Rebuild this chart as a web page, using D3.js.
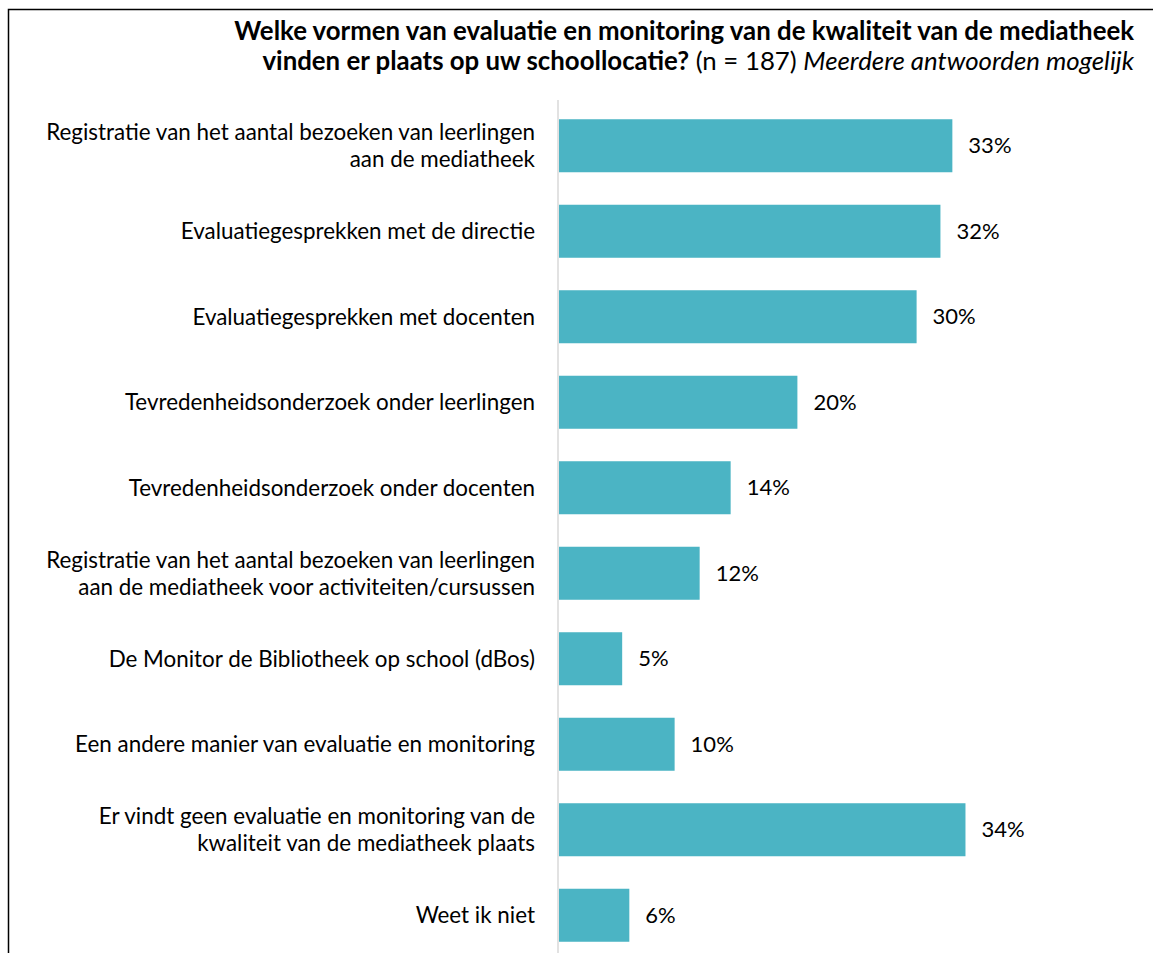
<!DOCTYPE html>
<html>
<head>
<meta charset="utf-8">
<script src="https://cdn.jsdelivr.net/npm/d3@7"></script>
<style>
  body { margin: 0; background: #fff; }
  text { font-family: Lato, "Open Sans", sans-serif; fill: #000; }
</style>
</head>
<body>
<div class="chart"></div>
<script>
// categories, one entry per bar (lines split where the chart wraps them)
var categories = [
  ["Registratie van het aantal bezoeken van leerlingen", "aan de mediatheek"],
  ["Evaluatiegesprekken met de directie"],
  ["Evaluatiegesprekken met docenten"],
  ["Tevredenheidsonderzoek onder leerlingen"],
  ["Tevredenheidsonderzoek onder docenten"],
  ["Registratie van het aantal bezoeken van leerlingen", "aan de mediatheek voor activiteiten/cursussen"],
  ["De Monitor de Bibliotheek op school (dBos)"],
  ["Een andere manier van evaluatie en monitoring"],
  ["Er vindt geen evaluatie en monitoring van de", "kwaliteit van de mediatheek plaats"],
  ["Weet ik niet"]
];
var values = [33, 32, 30, 20, 14.4, 11.8, 5.3, 9.7, 34.1, 5.9];

var width = 1153, height = 953;
var plotLeft = 559, plotTop = 103, plotBottom = 953;

var svg = d3.select("div.chart").append("svg")
  .attr("width", width)
  .attr("height", height);

// frame
svg.append("path")
  .attr("d", "M8.5," + height + "V9.5H" + width)
  .attr("fill", "none")
  .attr("stroke", "#000")
  .attr("stroke-width", 1.5);

// title
var title = svg.append("text")
  .attr("text-anchor", "end")
  .attr("font-size", "25.8px");
title.append("tspan")
  .attr("x", 1134).attr("y", 40)
  .attr("font-weight", "bold")
  .text("Welke vormen van evaluatie en monitoring van de kwaliteit van de mediatheek");
var t2 = title.append("tspan").attr("x", 1134).attr("y", 70);
t2.append("tspan").attr("font-weight", "bold").text("vinden er plaats op uw schoollocatie?");
t2.append("tspan").text(" (n = 187) ");
t2.append("tspan").attr("font-style", "italic").text("Meerdere antwoorden mogelijk");

var x = d3.scaleLinear()
  .domain([0, 35])
  .range([plotLeft, plotLeft + 35 * 11.92]);

var y = d3.scaleBand()
  .domain(d3.range(categories.length))
  .range([plotTop, plotTop + 85.5 * categories.length])
  .paddingInner(0.38)
  .paddingOuter(0.19);

// axis line
svg.append("line")
  .attr("x1", plotLeft - 1).attr("x2", plotLeft - 1)
  .attr("y1", 100).attr("y2", plotBottom)
  .attr("stroke", "#d9d9d9")
  .attr("stroke-width", 1.5);

svg.selectAll("rect.bar")
  .data(values)
  .enter()
  .append("rect")
  .attr("class", "bar")
  .attr("x", x(0))
  .attr("y", function(d, i) { return y(i); })
  .attr("width", function(d) { return x(d) - x(0); })
  .attr("height", y.bandwidth())
  .attr("fill", "#4bb4c4");

svg.selectAll("text.value")
  .data(values)
  .enter()
  .append("text")
  .attr("class", "value")
  .attr("x", function(d) { return x(d) + 16; })
  .attr("y", function(d, i) { return y(i) + y.bandwidth() / 2; })
  .attr("dy", "0.35em")
  .attr("font-size", "22px")
  .text(function(d) { return Math.round(d) + "%"; });

var labels = svg.selectAll("text.label")
  .data(categories)
  .enter()
  .append("text")
  .attr("class", "label")
  .attr("text-anchor", "end")
  .attr("font-size", "22.4px");

labels.each(function(lines, i) {
  var cy = y(i) + y.bandwidth() / 2;
  var lh = 27;
  var start = cy - (lines.length - 1) * lh / 2;
  d3.select(this).selectAll("tspan")
    .data(lines)
    .enter()
    .append("tspan")
    .attr("x", 535)
    .attr("y", function(d, j) { return start + j * lh; })
    .attr("dy", "0.35em")
    .text(function(d) { return d; });
});
</script>
</body>
</html>
